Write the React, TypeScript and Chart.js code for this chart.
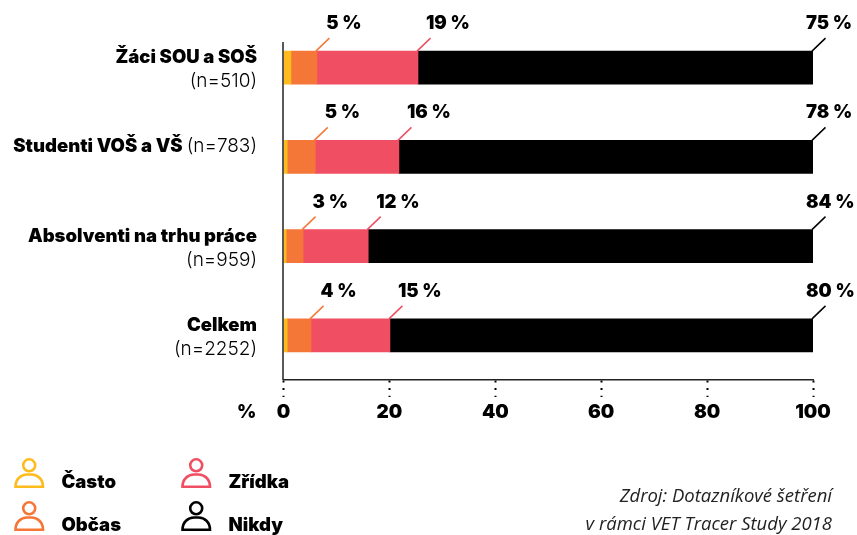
import React, { useEffect, useRef } from "react";
import { Chart, registerables } from "chart.js";

Chart.register(...registerables);

const FONT = "Inter";
const categories = ["Žáci SOU a SOŠ", "Studenti VOŠ a VŠ", "Absolventi na trhu práce", "Celkem"];
const counts = ["(n=510)", "(n=783)", "(n=959)", "(n=2252)"];
const inlineCount = [false, true, false, false];
const casto = [1.4, 0.7, 0.5, 0.7];
const obcas = [4.9, 5.3, 3.2, 4.5];
const zridka = [19.1, 15.8, 12.3, 14.9];
const nikdy = [74.6, 78.2, 84.0, 79.9];
const obcasLabels = ["5 %", "5 %", "3 %", "4 %"];
const zridkaLabels = ["19 %", "16 %", "12 %", "15 %"];
const nikdyLabels = ["75 %", "78 %", "84 %", "80 %"];
const colors = { casto: "#FDBB1E", obcas: "#F57738", zridka: "#F04E63", nikdy: "#000000" };
const legendItems = [
  { label: "Často", color: colors.casto, x: 14, y: 458 },
  { label: "Občas", color: colors.obcas, x: 14, y: 501 },
  { label: "Zřídka", color: colors.zridka, x: 181, y: 458 },
  { label: "Nikdy", color: colors.nikdy, x: 181, y: 501 },
];
const sourceLines = ["Zdroj: Dotazníkové šetření", "v rámci VET Tracer Study 2018"];

const annotate = {
  id: "annotate",
  afterDatasetsDraw(chart: any) {
    const { ctx, scales } = chart;
    const x = scales.x;
    const y = scales.y;
    ctx.save();
    ctx.strokeStyle = "#222";
    ctx.lineWidth = 1.5;
    ctx.beginPath();
    ctx.moveTo(x.left - 0.5, 42);
    ctx.lineTo(x.left - 0.5, y.bottom);
    ctx.stroke();

    const sets = [
      { ds: 1, labels: obcasLabels, off: 9.5, color: colors.obcas },
      { ds: 2, labels: zridkaLabels, off: 8, color: colors.zridka },
      { ds: 3, labels: nikdyLabels, off: -7, color: colors.nikdy },
    ];
    categories.forEach((_, i) => {
      const cy = y.getPixelForValue(i);
      const barTop = cy - 16.5;
      sets.forEach((s) => {
        const end = x.getPixelForValue(
          chart.data.datasets.slice(0, s.ds + 1).reduce((a: number, d: any) => a + d.data[i], 0)
        );
        ctx.strokeStyle = s.color;
        ctx.lineWidth = 1.5;
        ctx.beginPath();
        ctx.moveTo(end - 1, barTop);
        ctx.lineTo(end + 12.5, barTop - 13);
        ctx.stroke();
        ctx.fillStyle = "#000";
        ctx.font = `900 18.5px ${FONT}`;
        ctx.textAlign = "left";
        ctx.textBaseline = "alphabetic";
        ctx.fillText(s.labels[i], end + s.off, barTop - 22);
      });

      ctx.fillStyle = "#000";
      ctx.textAlign = "right";
      const rx = 257;
      if (inlineCount[i]) {
        ctx.font = `300 19px ${FONT}`;
        ctx.fillText(counts[i], rx, cy - 4.5);
        const w = ctx.measureText(counts[i]).width;
        ctx.font = `900 18.5px ${FONT}`;
        ctx.fillText(categories[i], rx - w - 4, cy - 4.5);
      } else {
        ctx.font = `900 18.5px ${FONT}`;
        ctx.fillText(categories[i], rx, cy - 4.5);
        ctx.font = `300 19px ${FONT}`;
        ctx.fillText(counts[i], rx, cy + 19.5);
      }
    });

    ctx.textAlign = "left";
    ctx.font = `900 18.5px ${FONT}`;
    ctx.fillText("%", 237, 418);
    ctx.restore();
  },
};

function PersonIcon({ color }: { color: string }) {
  return (
    <svg width="31" height="31" viewBox="0 0 31 31" style={{ display: "block" }}>
      <circle cx="15.2" cy="7.3" r="6" fill="none" stroke={color} strokeWidth="2.6" />
      <path d="M1.5 28.7 C1.5 21 7 16.5 13 16.5 H17.5 C23.5 16.5 29 21 29 28.7 Z" fill="none" stroke={color} strokeWidth="2.6" />
    </svg>
  );
}

export default function App() {
  const ref = useRef<HTMLCanvasElement>(null);
  useEffect(() => {
    const chart = new Chart(ref.current!, {
      type: "bar",
      data: {
        labels: categories,
        datasets: [
          { label: "Často", data: casto, backgroundColor: colors.casto },
          { label: "Občas", data: obcas, backgroundColor: colors.obcas },
          { label: "Zřídka", data: zridka, backgroundColor: colors.zridka },
          { label: "Nikdy", data: nikdy, backgroundColor: colors.nikdy },
        ],
      },
      options: {
        indexAxis: "y",
        responsive: false,
        animation: false,
        layout: { padding: { top: 23, right: 44, left: 0, bottom: 0 } },
        datasets: { bar: { barThickness: 33, borderWidth: 0 } },
        plugins: { legend: { display: false }, tooltip: { enabled: false } },
        scales: {
          x: {
            stacked: true,
            min: 0,
            max: 100,
            afterFit(s: any) { s.height = 155; },
            border: { display: true, color: "#222", width: 1.5 },
            grid: {
              drawOnChartArea: false,
              drawTicks: true,
              tickLength: 17,
              tickWidth: 2,
              tickColor: "#000",
              tickBorderDash: [2, 5.6],
            },
            ticks: {
              stepSize: 20,
              padding: 4,
              maxRotation: 0,
              color: "#000",
              font: { family: FONT, weight: 900, size: 19 },
            },
          },
          y: {
            stacked: true,
            afterFit(s: any) { s.width = 283.5; },
            border: { display: false },
            grid: { display: false },
            ticks: { display: false },
          },
        },
      } as any,
      plugins: [annotate],
    });
    return () => chart.destroy();
  }, []);
  return (
    <div style={{ position: "absolute", left: 0, top: 0, width: 857, height: 535, background: "#fff", fontFamily: FONT }}>
      <canvas ref={ref} width={857} height={535} style={{ display: "block" }} />
      {legendItems.map((it) => (
        <div key={it.label}>
          <div style={{ position: "absolute", left: it.x, top: it.y }}>
            <PersonIcon color={it.color} />
          </div>
          <div style={{ position: "absolute", left: it.x + 47.5, top: it.y + 11.5, fontWeight: 900, fontSize: 18.5, lineHeight: "22px", color: "#000" }}>
            {it.label}
          </div>
        </div>
      ))}
      <div style={{ position: "absolute", right: 25, top: 481, textAlign: "right", fontFamily: "'Open Sans'", fontStyle: "italic", fontWeight: 400, fontSize: 18.5, lineHeight: "28px", color: "#222" }}>
        {sourceLines.map((l) => (<div key={l}>{l}</div>))}
      </div>
    </div>
  );
}
